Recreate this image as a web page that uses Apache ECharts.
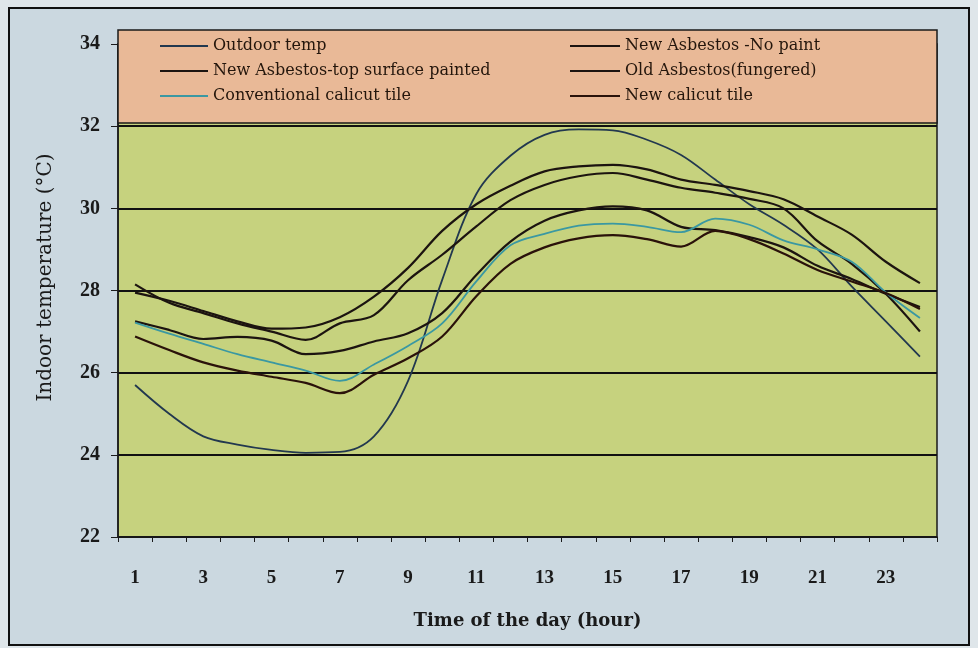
<!DOCTYPE html>
<html><head><meta charset="utf-8">
<script src="https://cdn.jsdelivr.net/npm/echarts@6/dist/echarts.min.js"></script>
<style>html,body{margin:0;padding:0;background:#dfe6ea;}#c{width:978px;height:648px;}</style>
</head><body><div id="c"></div>
<script>
const hours = ['1','2','3','4','5','6','7','8','9','10','11','12','13','14','15','16','17','18','19','20','21','22','23','24'];
const yTicks = [22, 24, 26, 28, 30, 32, 34];
const outdoorTemp = [25.7,25.0,24.45,24.25,24.12,24.05,24.07,24.45,25.8,28.26,30.35,31.28,31.79,31.92,31.9,31.67,31.3,30.7,30.1,29.6,29.0,28.1,27.25,26.39];
const newAsbNoPaint = [27.95,27.75,27.5,27.25,27.07,27.1,27.35,27.85,28.55,29.45,30.1,30.55,30.9,31.02,31.06,30.95,30.7,30.57,30.42,30.22,29.8,29.36,28.7,28.18];
const oldAsbFungered = [28.15,27.7,27.45,27.2,27.0,26.8,27.2,27.4,28.25,28.87,29.56,30.2,30.57,30.78,30.86,30.7,30.5,30.38,30.23,30.0,29.2,28.65,27.92,27.0];
const newAsbPainted = [27.25,27.04,26.82,26.87,26.78,26.45,26.53,26.76,26.96,27.45,28.38,29.19,29.7,29.95,30.05,29.95,29.55,29.47,29.3,29.05,28.6,28.28,27.92,27.6];
const convCalicutTile = [27.22,26.95,26.7,26.45,26.25,26.05,25.8,26.2,26.65,27.2,28.22,29.1,29.38,29.58,29.63,29.55,29.42,29.75,29.6,29.22,29.0,28.7,27.95,27.33];
const newCalicutTile = [26.88,26.55,26.25,26.05,25.9,25.75,25.5,25.95,26.35,26.88,27.86,28.65,29.05,29.27,29.35,29.25,29.07,29.45,29.25,28.9,28.5,28.22,27.94,27.55];

const names = ['Outdoor temp','New Asbestos -No paint','New Asbestos-top surface painted','Old Asbestos(fungered)','Conventional calicut tile','New calicut tile'];
const dataSets = [outdoorTemp, newAsbNoPaint, newAsbPainted, oldAsbFungered, convCalicutTile, newCalicutTile];
const colors = ['#22384f','#1c1410','#1c1410','#1c1410','#3a98a2','#2a120a'];
const widths = [1.8, 2.2, 2.2, 2.2, 1.8, 2.2];

const chart = echarts.init(document.getElementById('c'));
const legendText = {fontFamily:'DejaVu Serif', fontSize:16, color:'#24160c', lineHeight:18};
chart.setOption({
  animation:false,
  backgroundColor:'#dfe6ea',
  graphic:[
    {type:'rect', z:-1, shape:{x:9,y:8,width:960,height:637}, style:{fill:'#cbd8e0', stroke:'#111', lineWidth:2}},
    {type:'rect', z:1, shape:{x:118,y:30,width:819,height:93}, style:{fill:'#e9b997', stroke:'#1a1a1a', lineWidth:1.5}}
  ],
  grid:{left:118, right:41, top:44, bottom:111, show:true, backgroundColor:'#c6d27e', borderColor:'#1a1a1a', borderWidth:1.5},
  legend:[
    {orient:'vertical', left:155, top:32, itemWidth:48, itemHeight:2, icon:'rect', itemGap:7,
     data:[names[0], names[2], names[4]], textStyle:legendText, z:5},
    {orient:'vertical', left:565, top:32, itemWidth:50, itemHeight:2, icon:'rect', itemGap:7,
     data:[names[1], names[3], names[5]], textStyle:legendText, z:5}
  ],
  xAxis:{type:'category', data:hours, boundaryGap:true,
    name:'Time of the day (hour)', nameLocation:'middle', nameGap:75,
    nameTextStyle:{fontFamily:'DejaVu Serif', fontWeight:'bold', fontSize:18, color:'#1a1a1a'},
    axisLine:{lineStyle:{color:'#1a1a1a', width:1.5}},
    axisTick:{show:true, interval:0, length:5, lineStyle:{color:'#1a1a1a'}},
    axisLabel:{interval:1, margin:32, fontFamily:'Liberation Serif', fontWeight:'bold', fontSize:19, color:'#1a1a1a'},
    splitLine:{show:false}},
  yAxis:{type:'value', min:22, max:34, interval:2,
    name:'Indoor temperature (°C)', nameLocation:'middle', nameGap:62,
    nameTextStyle:{fontFamily:'DejaVu Serif', fontSize:20, color:'#1a1a1a', padding:[0,0,0,26]},
    axisLine:{show:true, lineStyle:{color:'#1a1a1a', width:1.5}},
    axisTick:{show:true, length:7, lineStyle:{color:'#1a1a1a'}},
    axisLabel:{margin:18, fontFamily:'Liberation Serif', fontWeight:'bold', fontSize:20, color:'#1a1a1a'},
    splitLine:{show:true, lineStyle:{color:'#111', width:2}}},
  series: names.map((n,i)=>({
    name:n, type:'line', data:dataSets[i], smooth:0.35, symbol:'none', z:3,
    itemStyle:{color:colors[i]}, lineStyle:{color:colors[i], width:widths[i]}
  }))
});
</script></body></html>
